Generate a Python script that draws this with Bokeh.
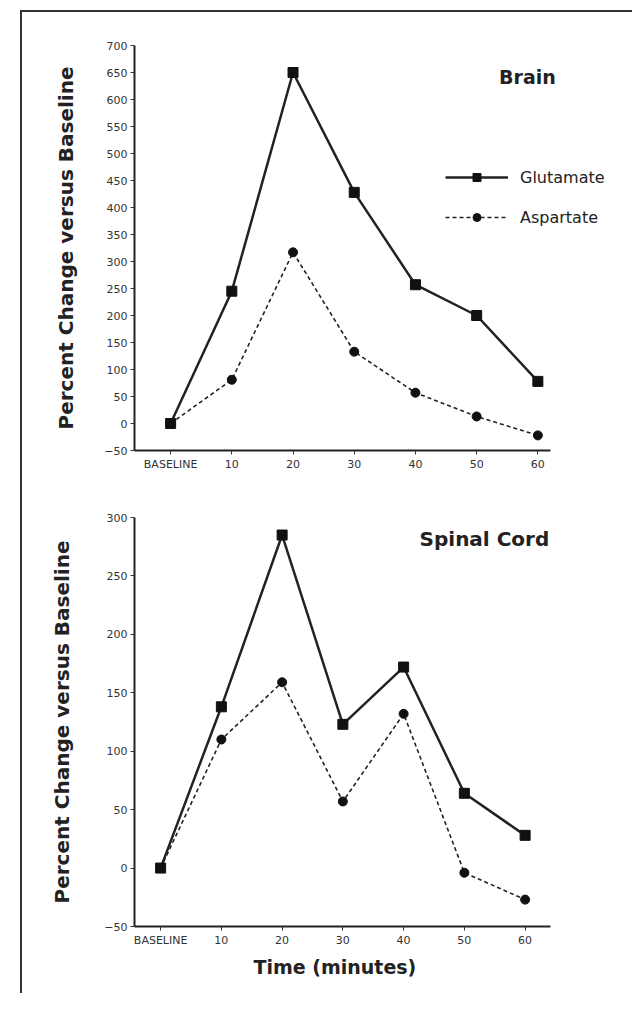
from bokeh.plotting import figure
from bokeh.models import FixedTicker, Legend, LegendItem, Label, Column, Title
from bokeh.embed import file_html
from bokeh.resources import INLINE

times = ["BASELINE", "10", "20", "30", "40", "50", "60"]
brain_glutamate = [0, 245, 650, 428, 257, 200, 78]
brain_aspartate = [0, 81, 317, 133, 57, 13, -22]
spinal_glutamate = [0, 138, 285, 123, 172, 64, 28]
spinal_aspartate = [0, 110, 159, 57, 132, -4, -27]
brain_yticks = list(range(-50, 701, 50))
spinal_yticks = list(range(-50, 301, 50))

FONT = "DejaVu Sans"
xs = list(range(len(times)))


def make_fig(height, xr, bounds, yr, yticks, mbt, mbb, standoff):
    p = figure(width=610, height=height, x_range=xr, y_range=yr,
               output_backend="svg", toolbar_location=None,
               min_border_left=112, min_border_right=12,
               min_border_top=mbt, min_border_bottom=mbb)
    p.outline_line_color = None
    p.grid.visible = False
    p.yaxis.ticker = FixedTicker(ticks=yticks)
    p.xaxis.ticker = FixedTicker(ticks=xs)
    p.xaxis.bounds = bounds
    p.xaxis.major_label_overrides = {i: t for i, t in enumerate(times)}
    for ax in (p.xaxis, p.yaxis):
        ax.axis_line_width = 2
        ax.axis_line_color = "#222222"
        ax.major_tick_line_color = "#333333"
        ax.major_tick_in = 0
        ax.major_tick_out = 4
        ax.minor_tick_line_color = None
        ax.major_label_text_font = FONT
        ax.major_label_text_font_size = "11px"
        ax.major_label_text_color = "#333333"
        ax.major_label_standoff = 3
    p.yaxis.axis_label = "Percent Change versus Baseline"
    p.yaxis.axis_label_text_font = FONT
    p.yaxis.axis_label_text_font_size = "20px"
    p.yaxis.axis_label_text_font_style = "bold"
    p.yaxis.axis_label_text_color = "#222222"
    p.yaxis.axis_label_standoff = standoff
    return p


def add_series(p, glu, asp):
    lg = p.line(xs, glu, line_color="#222222", line_width=2.5)
    sg = p.scatter(xs, glu, marker="square", size=10, color="#111111")
    la = p.line(xs, asp, line_color="#222222", line_width=1.6, line_dash="4 3")
    sa = p.scatter(xs, asp, marker="circle", size=9, color="#111111")
    return (lg, sg), (la, sa)


p1 = make_fig(488, (-0.59, 7.35), (-0.59, 6.21), (-50, 700), brain_yticks, 33, 50, 23)
g1, a1 = add_series(p1, brain_glutamate, brain_aspartate)
p1.add_layout(Label(x=5.83, y=642, text="Brain", text_font=FONT, text_font_size="19px",
                    text_font_style="bold", text_align="center", text_baseline="middle",
                    text_color="#222222"))
legend = Legend(items=[LegendItem(label="Glutamate", renderers=list(g1)),
                       LegendItem(label="Aspartate", renderers=list(a1))],
                location=(311, 223), padding=0, margin=0, spacing=20,
                glyph_width=63, glyph_height=20, label_height=20, label_standoff=12,
                label_text_font=FONT, label_text_font_size="16px",
                label_text_color="#222222",
                border_line_color=None, background_fill_alpha=0)
p1.add_layout(legend)

p2 = make_fig(493, (-0.43, 7.57), (-0.43, 6.41), (-50, 300), spinal_yticks, 17, 67, 27)
add_series(p2, spinal_glutamate, spinal_aspartate)
p2.add_layout(Label(x=5.33, y=282, text="Spinal Cord", text_font=FONT, text_font_size="20px",
                    text_font_style="bold", text_align="center", text_baseline="middle",
                    text_color="#222222"))
p2.add_layout(Title(text="Time (minutes)", align="left", offset=119, standoff=8,
                    text_font=FONT, text_font_size="19px", text_font_style="bold",
                    text_color="#222222"), "below")

layout = Column(children=[p1, p2], spacing=0, margin=(10, 0, 0, 20),
                styles={"border-top": "2px solid #333333", "border-left": "2px solid #333333"})

open("out.html", "w").write(file_html(layout, INLINE))
